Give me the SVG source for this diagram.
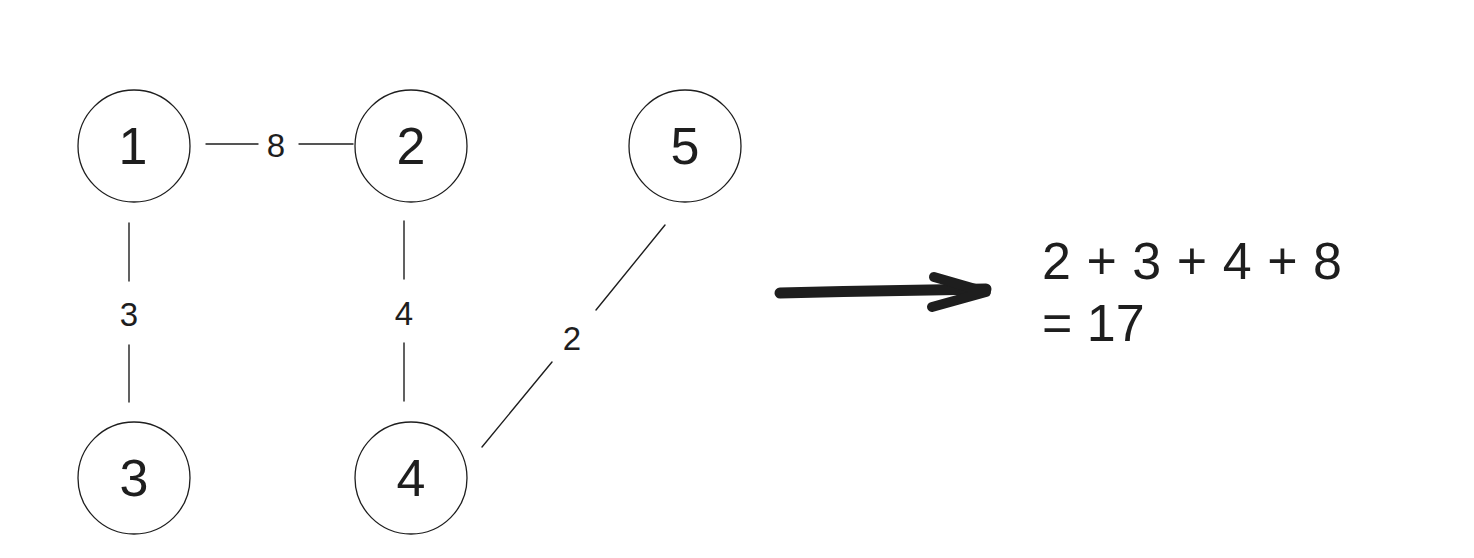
<svg xmlns="http://www.w3.org/2000/svg" width="1474" height="558" viewBox="0 0 1474 558">
<style>
.node circle{fill:none;stroke:#1e1e1e;stroke-width:1.3}
.nt{font-family:"Liberation Sans",Arial,sans-serif;font-size:52px;fill:#1e1e1e;text-anchor:middle}
.lbl{font-family:"Liberation Sans",Arial,sans-serif;font-size:33px;fill:#1e1e1e;text-anchor:middle}
.edge{stroke:#1e1e1e;stroke-width:1.4;fill:none;stroke-linecap:round}
.eq{font-family:"Liberation Sans",Arial,sans-serif;font-size:52px;fill:#1e1e1e}
</style>
<rect width="1474" height="558" fill="#ffffff"/>
<g id="connectors">
<g id="e12"><line class="edge" x1="206" y1="144" x2="258" y2="144"/><line class="edge" x1="299" y1="144" x2="353" y2="144"/><text class="lbl" x="276" y="157">8</text></g>
<g id="e13"><line class="edge" x1="129" y1="223" x2="129" y2="281"/><line class="edge" x1="129" y1="345" x2="129" y2="402"/><text class="lbl" x="129" y="326">3</text></g>
<g id="e24"><line class="edge" x1="404" y1="221" x2="404" y2="279"/><line class="edge" x1="404" y1="343" x2="404" y2="401"/><text class="lbl" x="404" y="325">4</text></g>
<g id="e54"><line class="edge" x1="665" y1="225" x2="596" y2="310"/><line class="edge" x1="552" y1="362" x2="482" y2="447"/><text class="lbl" x="572" y="350">2</text></g>
</g>
<g id="node1" class="node"><circle cx="134" cy="146" r="56"/><text class="nt" x="133" y="164">1</text></g>
<g id="node2" class="node"><circle cx="411" cy="146" r="56"/><text class="nt" x="411" y="164">2</text></g>
<g id="node5" class="node"><circle cx="685" cy="146" r="56"/><text class="nt" x="685" y="164">5</text></g>
<g id="node3" class="node"><circle cx="134" cy="478" r="56"/><text class="nt" x="134" y="496">3</text></g>
<g id="node4" class="node"><circle cx="411" cy="478" r="56"/><text class="nt" x="411" y="496">4</text></g>
<g id="arrow">
<path d="M 780 293 C 850 291 930 290 986 289" fill="none" stroke="#1e1e1e" stroke-width="11" stroke-linecap="round"/>
<path d="M 934 277 L 986 292 L 932 307" fill="none" stroke="#1e1e1e" stroke-width="10" stroke-linecap="round" stroke-linejoin="round"/>
</g>
<g id="result">
<text class="eq" x="1042" y="279" textLength="300">2 + 3 + 4 + 8</text>
<text class="eq" x="1042" y="341">= 17</text>
</g>
</svg>
